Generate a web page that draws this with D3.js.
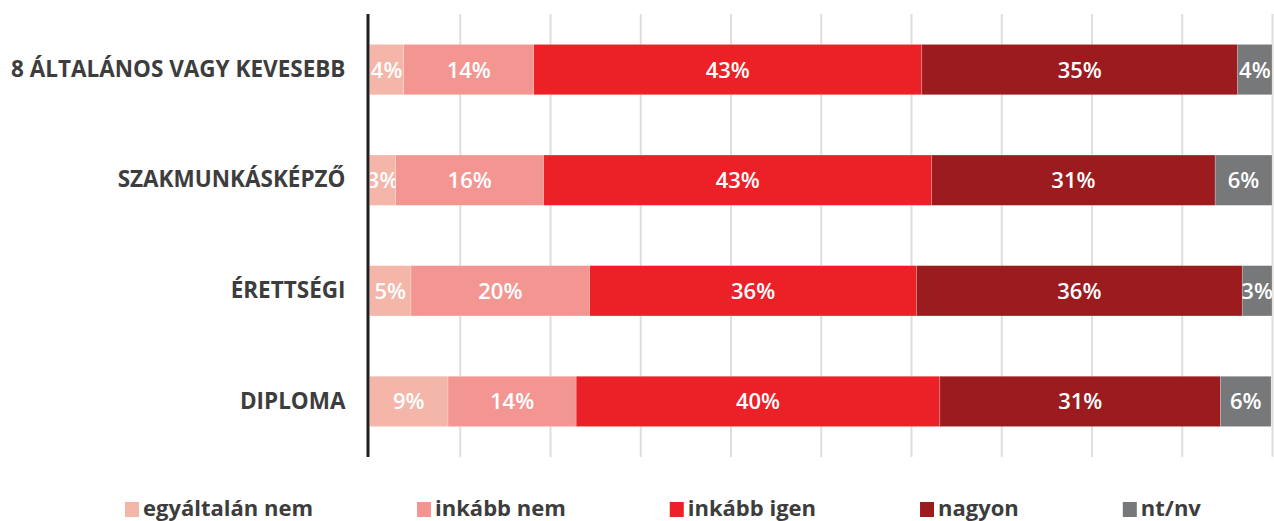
<!DOCTYPE html>
<html>
<head>
<meta charset="utf-8">
<script src="https://cdn.jsdelivr.net/npm/d3@7"></script>
<style>
	body { margin: 0; background: #fff; }
	svg { display: block; font-family: "Open Sans", sans-serif; }
</style>
</head>
<body>
<div id="wrapper"></div>
<script>
const categories = [
	"8 ÁLTALÁNOS VAGY KEVESEBB",
	"SZAKMUNKÁSKÉPZŐ",
	"ÉRETTSÉGI",
	"DIPLOMA",
];
const seriesNames = ["egyáltalán nem", "inkább nem", "inkább igen", "nagyon", "nt/nv"];
const seriesColors = ["#f3b6a8", "#f39692", "#ec2027", "#9b1b1f", "#76787a"];

// share of answers per category (%), in series order
const egyaltalanNem = [3.8, 2.9, 4.6, 8.7];
const inkabbNem = [14.4, 16.4, 19.8, 14.2];
const inkabbIgen = [43.0, 43.0, 36.2, 40.3];
const nagyon = [35.0, 31.4, 36.1, 31.1];
const ntNv = [3.8, 6.3, 3.3, 5.6];
const gridTicks = [10, 20, 30, 40, 50, 60, 70, 80, 90, 100];

const dimensions = {
	width: 1274,
	height: 521,
	margins: { top: 14, right: 2, bottom: 64, left: 369.5 },
};
dimensions.boundedWidth = dimensions.width - dimensions.margins.left - dimensions.margins.right;
dimensions.boundedHeight = dimensions.height - dimensions.margins.top - dimensions.margins.bottom;

const table = categories.map((c, i) => ({
	category: c,
	[seriesNames[0]]: egyaltalanNem[i],
	[seriesNames[1]]: inkabbNem[i],
	[seriesNames[2]]: inkabbIgen[i],
	[seriesNames[3]]: nagyon[i],
	[seriesNames[4]]: ntNv[i],
}));
const stacked = d3.stack().keys(seriesNames)(table);

const svg = d3
	.select("#wrapper")
	.append("svg")
	.attr("width", dimensions.width)
	.attr("height", dimensions.height);
const bounds = svg
	.append("g")
	.attr("transform", `translate(${dimensions.margins.left}, ${dimensions.margins.top})`);

const xScale = d3.scaleLinear().domain([0, 100]).range([0, dimensions.boundedWidth]);
const yScale = d3
	.scaleBand()
	.domain(categories)
	.range([0, dimensions.boundedHeight])
	.paddingInner(0.545)
	.paddingOuter(0.275);
const color = d3.scaleOrdinal().domain(seriesNames).range(seriesColors);

// grid
bounds
	.append("g")
	.call(d3.axisBottom(xScale).tickValues(gridTicks).tickSize(dimensions.boundedHeight).tickFormat(""))
	.call((g) => g.select(".domain").remove())
	.call((g) => g.selectAll(".tick line").attr("stroke", "#dedede").attr("stroke-width", 2));

// bars
const layers = bounds
	.selectAll(".layer")
	.data(stacked)
	.join("g")
	.attr("class", "layer")
	.attr("fill", (d) => color(d.key));

layers
	.selectAll("rect")
	.data((d) => d.map((v) => ({ key: d.key, v })))
	.join("rect")
	.attr("x", (d) => xScale(d.v[0]))
	.attr("y", (d) => yScale(d.v.data.category))
	.attr("width", (d) => xScale(d.v[1]) - xScale(d.v[0]))
	.attr("height", yScale.bandwidth())
	.attr("stroke", "#ffffff")
	.attr("stroke-opacity", 0.35)
	.attr("stroke-width", 0.6);

// value labels, clipped to their segment
const defs = svg.append("defs");
let clipId = 0;
stacked.forEach((layer) => {
	layer.forEach((v) => {
		const id = `clip-${clipId++}`;
		const x0 = xScale(v[0]);
		const x1 = xScale(v[1]);
		const y0 = yScale(v.data.category);
		defs
			.append("clipPath")
			.attr("id", id)
			.append("rect")
			.attr("x", x0)
			.attr("y", y0)
			.attr("width", x1 - x0)
			.attr("height", yScale.bandwidth());
		bounds
			.append("text")
			.attr("clip-path", `url(#${id})`)
			.attr("x", (x0 + x1) / 2)
			.attr("y", y0 + yScale.bandwidth() / 2)
			.attr("dy", "0.36em")
			.attr("text-anchor", "middle")
			.attr("fill", "#ffffff")
			.style("font-size", "22px")
			.style("font-weight", 600)
			.text(`${Math.round(v[1] - v[0])}%`);
	});
});

// category labels
bounds
	.append("g")
	.call(d3.axisLeft(yScale).tickSize(0).tickPadding(24))
	.call((g) => g.select(".domain").remove())
	.call((g) =>
		g
			.selectAll("text")
			.attr("fill", "#3d3d3d")
			.style("font-size", "22.5px")
			.style("font-weight", 700)
			.style("font-family", "'Open Sans', sans-serif")
	);

// vertical axis line
bounds
	.append("line")
	.attr("x1", -1.5)
	.attr("x2", -1.5)
	.attr("y1", 0)
	.attr("y2", dimensions.boundedHeight)
	.attr("stroke", "#231f20")
	.attr("stroke-width", 3);

// legend
const legend = svg.append("g").attr("transform", "translate(125, 502)");
let lx = 0;
seriesNames.forEach((name) => {
	const item = legend.append("g").attr("transform", `translate(${lx}, 0)`);
	item.append("rect").attr("width", 14).attr("height", 15).attr("fill", color(name));
	const t = item
		.append("text")
		.attr("x", 18)
		.attr("y", 14)
		.attr("fill", "#3d3d3d")
		.style("font-size", "22px")
		.style("font-weight", 700)
		.text(name);
	lx += 18 + t.node().getComputedTextLength() + 104;
});
</script>
</body>
</html>
